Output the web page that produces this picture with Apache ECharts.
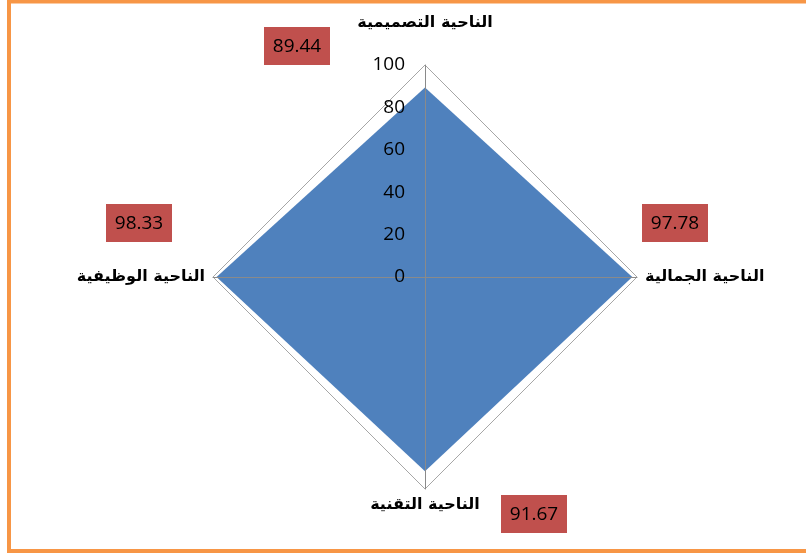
<!DOCTYPE html>
<html>
<head>
<meta charset="utf-8">
<script src="https://cdn.jsdelivr.net/npm/echarts@6/dist/echarts.min.js"></script>
<style>
html,body{margin:0;padding:0;background:#fff;}
#c{width:806px;height:553px;}
</style>
</head>
<body>
<div id="c"></div>
<script>
// Data (Excel clockwise order: top, right, bottom, left)
var categories = ['الناحية التصميمية', 'الناحية الجمالية', 'الناحية التقنية', 'الناحية الوظيفية'];
var values = [89.44, 97.78, 91.67, 98.33];
var tickLabels = [0, 20, 40, 60, 80, 100];
var axisMax = 100;

// ECharts radar runs counter-clockwise from the top: top, left, bottom, right
var order = [0, 3, 2, 1];
var indicator = order.map(function (i) { return { name: categories[i], min: 0, max: axisMax }; });
var radarValues = order.map(function (i) { return values[i]; });

// value boxes (annotations, placed beside each vertex like the original)
var boxPos = [[297, 46], [675, 223], [534, 514], [139, 223]];
var boxes = values.map(function (v, i) {
  return {
    type: 'group', x: boxPos[i][0], y: boxPos[i][1], z: 100,
    children: [
      { type: 'rect', shape: { x: -33, y: -19, width: 66, height: 38 }, style: { fill: '#C0504D' } },
      { type: 'text', style: { text: v.toFixed(2), x: 0, y: 1, align: 'center', verticalAlign: 'middle',
        fill: '#000', font: '19px "Open Sans", "Liberation Sans", sans-serif' } }
    ]
  };
});

var chart = echarts.init(document.getElementById('c'));
chart.setOption({
  animation: false,
  backgroundColor: '#fff',
  graphic: [{
    type: 'rect', z: -1, silent: true,
    shape: { x: 9, y: 1.5, width: 820, height: 549.5 },
    style: { fill: 'none', stroke: '#F79646', lineWidth: 4 }
  }].concat(boxes),
  radar: {
    z: 3,
    center: [425, 277],
    radius: 212,
    startAngle: 90,
    shape: 'polygon',
    splitNumber: 1,
    nameGap: 8,
    axisName: {
      color: '#000', fontFamily: 'DejaVu Sans', fontWeight: 'bold', fontSize: 16,
      formatter: function (name) {
        return name === categories[0] ? '{t|' + name + '}' : name;
      },
      rich: { t: { fontFamily: 'DejaVu Sans', fontWeight: 'bold', fontSize: 16, color: '#000', padding: [0, 0, 26, 0] } }
    },
    axisLine: { lineStyle: { color: '#8a8a8a', width: 1 } },
    splitLine: { lineStyle: { color: '#a6a6a6', width: 1 } },
    splitArea: { show: false },
    indicator: indicator
  },
  polar: { center: [425, 277], radius: 212 },
  angleAxis: { show: false, min: 0, max: 360, startAngle: 90 },
  radiusAxis: {
    min: 0, max: axisMax, interval: 20, z: 10,
    axisLine: { show: false }, axisTick: { show: false }, splitLine: { show: false },
    axisLabel: {
      color: '#000', fontSize: 19, fontFamily: '"Open Sans", "Liberation Sans", sans-serif', margin: 20,
      formatter: function (v) { return tickLabels.indexOf(v) >= 0 ? String(v) : ''; }
    }
  },
  series: [{
    type: 'radar',
    z: 1,
    symbol: 'none',
    lineStyle: { width: 0, color: '#4F81BD' },
    areaStyle: { color: '#4F81BD', opacity: 1 },
    data: [{ value: radarValues }]
  }, {
    type: 'scatter', coordinateSystem: 'polar', data: [], silent: true
  }]
});
</script>
</body>
</html>
